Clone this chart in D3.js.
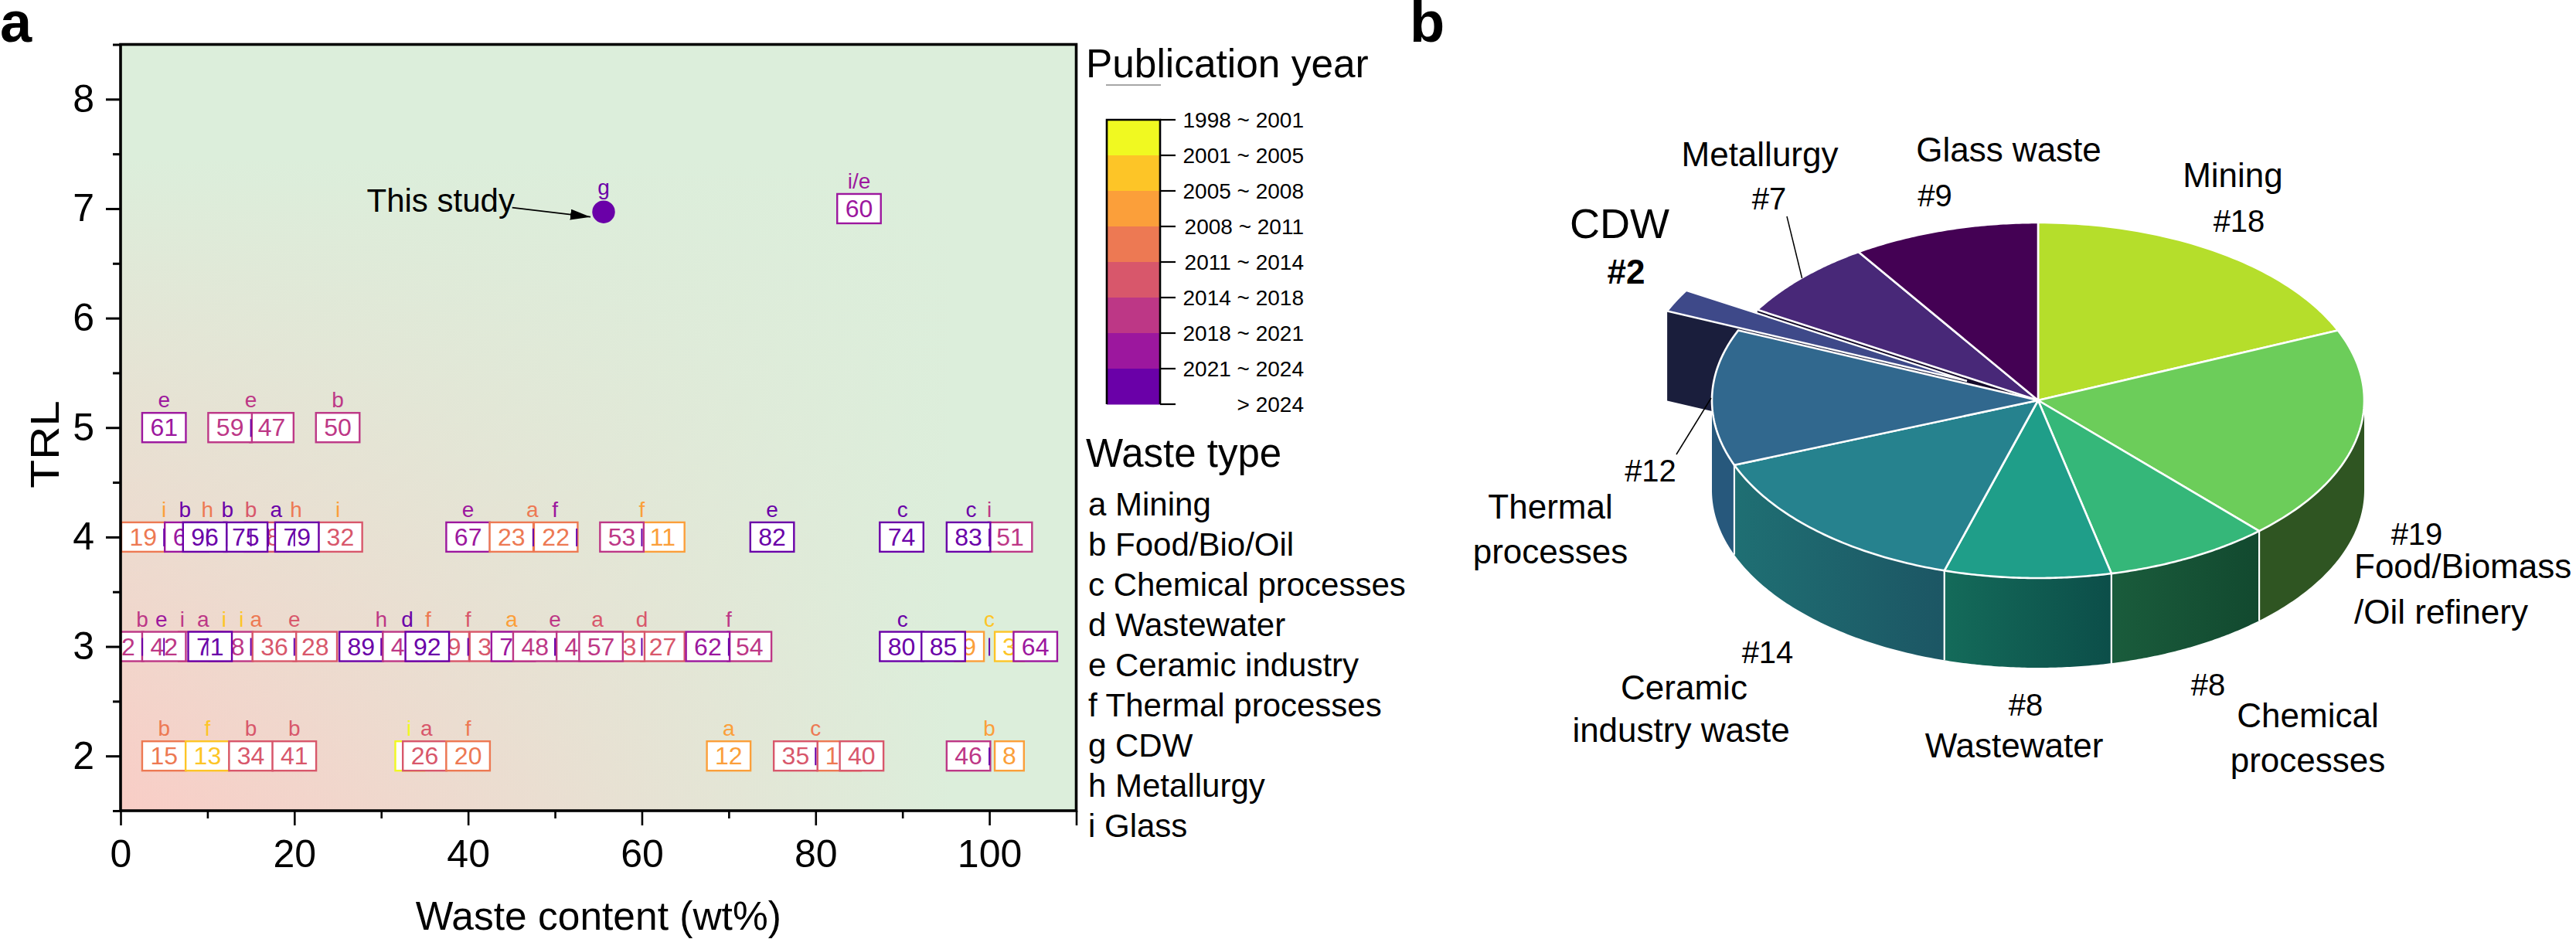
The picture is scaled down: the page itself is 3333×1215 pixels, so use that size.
<!DOCTYPE html>
<html>
<head>
<meta charset="utf-8">
<script src="https://cdn.jsdelivr.net/npm/d3@7"></script>
<style>
html,body{margin:0;padding:0;background:#fff}
svg{display:block}
text{font-family:"Liberation Sans",Arial,sans-serif;fill:#000}
</style>
</head>
<body>
<svg id="chart" width="3333" height="1215" viewBox="0 0 3333 1215"></svg>
<script>
// ---------- DATA ----------
const yearBands = ["1998 ~ 2001","2001 ~ 2005","2005 ~ 2008","2008 ~ 2011","2011 ~ 2014","2014 ~ 2018","2018 ~ 2021","2021 ~ 2024","> 2024"];
const yearColors = ["#f0f921","#fdc527","#fb9f3a","#ed7953","#d8576b","#bd3786","#9c179e","#6a00a8"];
const wasteLegend = ["a Mining","b Food/Bio/Oil","c Chemical processes","d Wastewater","e Ceramic industry","f Thermal processes","g CDW","h Metallurgy","i Glass"];

// [reference number, waste content wt%, year colour index]; listed bottom-to-top of the drawing stack
const boxesTRL7 = [["60",85,6]];
const boxesTRL5 = [["61",5,6],["47",17.4,5],["59",12.6,5],["50",25,5]];
const boxesTRL4 = [["19",2.6,3],["38",16.8,4],["69",7.6,6],["75",14.4,7],["96",9.7,7],["32",25.3,4],["79",20.3,7],
  ["67",40,6],["23",45,3],["22",50.1,3],["11",62.4,2],["53",57.7,5],["82",75,7],["74",89.9,7],["51",102.4,5],["83",97.6,7]];
const boxesTRL3 = [["52",0.1,5],["30",9.2,4],["42",5,5],["58",12.7,5],["28",22.4,4],["36",17.7,4],["71",10.3,7],
  ["89",27.7,7],["43",32.7,5],["29",37.6,4],["92",35.3,7],["37",42.7,4],["70",45.2,6],["48",47.7,5],
  ["44",52.7,5],["27",62.4,4],["33",57.8,4],["57",55.3,5],["54",72.4,5],["62",67.6,6],
  ["9",97.7,2],["80",89.9,7],["85",94.7,7],["3",102.3,1],["64",105.3,6]];
const boxesTRL2 = [["15",5,3],["13",10,1],["34",15,4],["41",20,4],["5",33.3,0],["26",35,4],["20",40,3],
  ["12",70,2],["16",82.7,3],["35",77.7,4],["40",85.3,4],["46",97.6,5],["8",102.3,2]];

// [waste type letter, wt%, year colour index]
const tagsTRL7 = [["i/e",85,6],["g",55.6,7]];
const tagsTRL5 = [["e",5,6],["e",15,5],["b",25,5]];
const tagsTRL4 = [["i",5,2],["b",7.4,7],["h",10,3],["b",12.3,7],["b",15,4],["a",17.9,7],["h",20.2,3],["i",25,2],
  ["e",40,6],["a",47.4,3],["f",50,6],["f",60,2],["e",75,7],["c",90,7],["c",97.9,7],["i",100,5]];
const tagsTRL3 = [["b",2.5,5],["e",4.7,6],["i",7.1,5],["a",9.5,5],["i",11.9,1],["i",13.9,1],["a",15.6,3],["e",20,4],
  ["h",30,5],["d",33,7],["f",35.4,3],["f",40,4],["a",45,2],["e",50,5],["a",54.9,4],["d",60,4],["f",70,5],["c",90,7],["c",100,1]];
const tagsTRL2 = [["b",5,3],["f",10,1],["b",15,4],["b",20,4],["i",33.2,0],["a",35.2,4],["f",40,3],["a",70,2],["c",80,3],["b",100,2]];

// thin purple sample markers, wt%
const marksTRL5 = [15];
const marksTRL4 = [5,10,12.2,15,17,20,47.5,52.5,60,100];
const marksTRL3 = [2.5,5,10,15,20,30,40,50,60,70,100];
const marksTRL2 = [80,100];

const thisStudy = {label:"This study", x:55.6, y:6.97};

const pieNames  = ["Mining","Food/Biomass/Oil refinery","Chemical processes","Wastewater","Ceramic industry waste","Thermal processes","CDW","Metallurgy","Glass waste"];
const pieCounts = [18,19,8,8,14,12,2,7,9];
const pieTop    = ["#b5de2b","#6ccd5a","#35b779","#1f9e89","#26828e","#31688e","#3e4989","#482878","#440154"];
const wallLeft  = ["#000","#2f5522","#1a5c3c","#146b5a","#1f6f73","#27587c","#1a1e3c","#140a2a","#000"];
const wallRight = ["#000","#2f5522","#12492f","#0c4e49","#1c5664","#27587c","#1a1e3c","#140a2a","#000"];

// ---------- SETUP ----------
const svg = d3.select("#chart");
const defs = svg.append("defs");
const x = d3.scaleLinear().domain([0,110]).range([156,1392.5]);
const y = d3.scaleLinear().domain([1.5,8.5]).range([1049,57.5]);
const color = i => yearColors[i];
const BOXH = 38, BOX2 = 56.5, BOX1 = 37.7;

// ---------- BACKGROUND ----------
const gx = defs.append("linearGradient").attr("id","bgx");
gx.append("stop").attr("offset",0).attr("stop-color","#f9cdc6");
gx.append("stop").attr("offset",0.87).attr("stop-color","#dceedb");
const gy = defs.append("linearGradient").attr("id","bgy").attr("x1",0).attr("x2",0).attr("y1",1).attr("y2",0);
gy.append("stop").attr("offset",0).attr("stop-color","#dceedb").attr("stop-opacity",0);
gy.append("stop").attr("offset",0.85).attr("stop-color","#dceedb").attr("stop-opacity",1);
const plotRect = {x:x(0), y:y(8.5), width:x(110)-x(0), height:y(1.5)-y(8.5)};
["url(#bgx)","url(#bgy)"].forEach(f=>{
  svg.append("rect").attr("x",plotRect.x).attr("y",plotRect.y).attr("width",plotRect.width).attr("height",plotRect.height).attr("fill",f);
});
defs.append("clipPath").attr("id","plotClip").append("rect")
  .attr("x",plotRect.x).attr("y",plotRect.y).attr("width",plotRect.width+60).attr("height",plotRect.height);

// ---------- BOXES ----------
const marks = svg.append("g").attr("clip-path","url(#plotClip)");
function drawRow(trl, boxes, tags, ticks){
  const yc = y(trl);
  const g = marks.append("g");
  boxes.forEach(b=>{
    const w = b[0].length===1 ? BOX1 : BOX2;
    g.append("rect").attr("x",x(b[1])-w/2).attr("y",yc-BOXH/2).attr("width",w).attr("height",BOXH)
      .attr("fill","#fff").attr("stroke",color(b[2])).attr("stroke-width",2.4);
    g.append("text").attr("x",x(b[1])).attr("y",yc+11.2).attr("text-anchor","middle")
      .attr("font-size",32).style("fill",color(b[2])).text(b[0]);
  });
  ticks.forEach(t=>{
    g.append("line").attr("x1",x(t)).attr("x2",x(t)).attr("y1",yc-11).attr("y2",yc+12)
      .attr("stroke","#6a00a8").attr("stroke-width",2);
  });
  tags.forEach(t=>{
    svg.append("text").attr("x",x(t[1])).attr("y",yc-26).attr("text-anchor","middle")
      .attr("font-size",28).style("fill",color(t[2])).text(t[0]);
  });
}
drawRow(7,boxesTRL7,[tagsTRL7[0]],[]);
drawRow(5,boxesTRL5,tagsTRL5,marksTRL5);
drawRow(4,boxesTRL4,tagsTRL4,marksTRL4);
drawRow(3,boxesTRL3,tagsTRL3,marksTRL3);
drawRow(2,boxesTRL2,tagsTRL2,marksTRL2);

// This study
const sx = x(thisStudy.x), sy = y(thisStudy.y);
svg.append("circle").attr("cx",sx).attr("cy",sy).attr("r",14.7).attr("fill","#6a00a8");
svg.append("text").attr("x",sx).attr("y",sy-22).attr("text-anchor","middle").attr("font-size",28)
  .style("fill","#6a00a8").text(tagsTRL7[1][0]);
svg.append("text").attr("x",474.5).attr("y",273.6).attr("font-size",42).text(thisStudy.label);
defs.append("marker").attr("id","arrow").attr("markerUnits","userSpaceOnUse").attr("markerWidth",28).attr("markerHeight",16)
  .attr("refX",26).attr("refY",7).attr("orient","auto")
  .append("path").attr("d","M0,0L26,7L0,14z").attr("fill","#000");
svg.append("line").attr("x1",662.7).attr("y1",268.6).attr("x2",sx-17).attr("y2",sy+6.5)
  .attr("stroke","#000").attr("stroke-width",1.8).attr("marker-end","url(#arrow)");

// ---------- AXES ----------
function styleAxis(g, w){
  g.selectAll("path").remove();
  g.selectAll("line").attr("stroke","#000").attr("stroke-width",w);
  g.selectAll("text").attr("font-size",50).style("fill","#000").attr("font-family",'"Liberation Sans"');
}
const yMajor = d3.axisLeft(y).tickValues([2,3,4,5,6,7,8]).tickSize(19).tickPadding(15).tickFormat(d3.format("d"));
const yMinor = d3.axisLeft(y).tickValues([1.5,2.5,3.5,4.5,5.5,6.5,7.5,8.5]).tickSize(10).tickFormat("");
const xMajor = d3.axisBottom(x).tickValues([0,20,40,60,80,100,110]).tickSize(19).tickPadding(18).tickFormat(d=>d===110?"":d);
const xMinor = d3.axisBottom(x).tickValues([10,30,50,70,90]).tickSize(10).tickFormat("");
styleAxis(svg.append("g").attr("transform",`translate(${x(0)},0)`).call(yMajor),3);
styleAxis(svg.append("g").attr("transform",`translate(${x(0)},0)`).call(yMinor),3);
styleAxis(svg.append("g").attr("transform",`translate(0,${y(1.5)})`).call(xMajor),2.6);
styleAxis(svg.append("g").attr("transform",`translate(0,${y(1.5)})`).call(xMinor),2.6);
svg.append("rect").attr("x",plotRect.x).attr("y",plotRect.y).attr("width",plotRect.width).attr("height",plotRect.height)
  .attr("fill","none").attr("stroke","#000").attr("stroke-width",3.6);
svg.append("text").attr("x",x(55)).attr("y",1203).attr("text-anchor","middle").attr("font-size",51.5).text("Waste content (wt%)");
svg.append("text").attr("transform","translate(75.5,575) rotate(-90) scale(1.18,1)").attr("text-anchor","middle").attr("font-size",51).text("TRL");
svg.append("text").attr("x",0).attr("y",54).attr("font-size",74).attr("font-weight","bold").text("a");
svg.append("text").attr("x",1824).attr("y",54).attr("font-size",74).attr("font-weight","bold").text("b");

// ---------- YEAR LEGEND ----------
svg.append("text").attr("x",1405).attr("y",100).attr("font-size",51.4).text("Publication year");
svg.append("line").attr("x1",1431).attr("x2",1502).attr("y1",110).attr("y2",110).attr("stroke","#8a8a8a").attr("stroke-width",1.5);
const lg = d3.scaleBand().domain(d3.range(yearColors.length)).range([155,523]);
const lgLeft = 1432, lgRight = 1501;
svg.append("g").selectAll("rect").data(yearColors).join("rect")
  .attr("x",lgLeft).attr("width",lgRight-lgLeft).attr("y",(d,i)=>lg(i)).attr("height",lg.bandwidth()+0.5).attr("fill",d=>d);
const legendBox = svg.append("g");
legendBox.append("path").attr("d",`M${lgLeft},523V155H${lgRight}V523`).attr("fill","none").attr("stroke","#000").attr("stroke-width",2.6);
yearBands.forEach((t,i)=>{
  const ly = 155 + i*lg.bandwidth();
  legendBox.append("line").attr("x1",lgRight).attr("x2",1521).attr("y1",ly).attr("y2",ly).attr("stroke","#000").attr("stroke-width",2.2);
  legendBox.append("text").attr("x",1687).attr("y",ly+9.8).attr("text-anchor","end").attr("font-size",28).text(t);
});

// ---------- WASTE LEGEND ----------
svg.append("text").attr("x",1405).attr("y",604).attr("font-size",51).text("Waste type");
wasteLegend.forEach((t,i)=>{
  svg.append("text").attr("x",1408).attr("y",667+i*52).attr("font-size",42).text(t);
});

// ---------- 3D PIE ----------
const cx=2637, cy=518, rx=422, ry=230, depth=116, explode=[-92,-25];
const pieArcs = d3.pie().sort(null).value(d=>d)(pieCounts);
const px = d3.scaleLinear().domain([-1,1]).range([cx-rx,cx+rx]);
const py = d3.scaleLinear().domain([-1,1]).range([cy-ry,cy+ry]);
const rim = (a,dy=0,off=[0,0]) => [px(Math.sin(a))+off[0], py(-Math.cos(a))+dy+off[1]];
const centre = (dy=0,off=[0,0]) => [px(0)+off[0], py(0)+dy+off[1]];
const arcPts = (a0,a1,dy=0,off=[0,0]) => d3.range(0,61).map(k=>rim(a0+(a1-a0)*k/60,dy,off));
const pathOf = d3.line();
const pieG = svg.append("g");

// exposed radial walls behind the pulled-out wedge
const cdw = pieArcs[6], metal = pieArcs[7];
pieG.append("path").attr("d",pathOf([centre(),rim(metal.startAngle),rim(metal.startAngle,depth),centre(depth)])+"Z").attr("fill",wallLeft[7]);
pieG.append("path").attr("d",pathOf([centre(0,explode),rim(cdw.startAngle,0,explode),rim(cdw.startAngle,depth,explode),centre(depth,explode)])+"Z").attr("fill",wallLeft[6]);
pieG.append("path").attr("d",pathOf([centre(0,explode),...arcPts(cdw.startAngle,cdw.endAngle,0,explode)])+"Z")
  .attr("fill",pieTop[6]).attr("stroke","#fff").attr("stroke-width",2.4);

// front walls
pieArcs.forEach((d,i)=>{
  const a0=Math.max(d.startAngle,Math.PI/2), a1=Math.min(d.endAngle,Math.PI*1.5);
  if(a1<=a0) return;
  const gid="wall"+i;
  const grad=defs.append("linearGradient").attr("id",gid);
  grad.append("stop").attr("offset",0).attr("stop-color",wallLeft[i]);
  grad.append("stop").attr("offset",1).attr("stop-color",wallRight[i]);
  const pts=[...arcPts(a0,a1,0),...arcPts(a1,a0,depth)];
  pieG.append("path").attr("d",pathOf(pts)+"Z").attr("fill",`url(#${gid})`);
});
pieArcs.forEach(d=>{
  const a=d.startAngle;
  if(a>Math.PI/2 && a<Math.PI*1.5){
    const p=rim(a), q=rim(a,depth);
    pieG.append("line").attr("x1",p[0]).attr("y1",p[1]).attr("x2",q[0]).attr("y2",q[1]).attr("stroke","#fff").attr("stroke-width",2.2);
  }
});

// top faces
pieArcs.forEach((d,i)=>{
  if(i===6) return;
  pieG.append("path").attr("d",pathOf([centre(),...arcPts(d.startAngle,d.endAngle)])+"Z")
    .attr("fill",pieTop[i]).attr("stroke","#fff").attr("stroke-width",2.6).attr("stroke-linejoin","round");
});

// ---------- PIE LABELS ----------
const pieCountLabels = pieCounts.map(c=>"#"+c);
function lab(t,xp,yp,fs,anchor,bold){
  svg.append("text").attr("x",xp).attr("y",yp).attr("font-size",fs).attr("text-anchor",anchor||"middle")
    .attr("font-weight",bold?"bold":null).text(t);
}
lab("Mining",2889,242,44);           lab(pieCountLabels[0],2897,300,40);
lab(pieCountLabels[1],3127,705,40);  lab("Food/Biomass",3046,748,44,"start"); lab("/Oil refinery",3046,807,44,"start");
lab(pieCountLabels[2],2857,900,40);  lab("Chemical",2986,941,44);   lab("processes",2986,999,44);
lab(pieCountLabels[3],2621,926,40);  lab("Wastewater",2606,980,44);
lab(pieCountLabels[4],2287,858,40);  lab("Ceramic",2179,905,44);    lab("industry waste",2175,960,44);
lab(pieCountLabels[5],2135.5,623,40);lab("Thermal",2006,671,44);    lab("processes",2006,729,44);
lab("CDW",2095.5,308,54);            lab(pieCountLabels[6],2104,367,44,"middle",true);
lab("Metallurgy",2277,215,44);       lab(pieCountLabels[7],2289,270.7,40);
lab("Glass waste",2599,209,44);      lab(pieCountLabels[8],2503.5,266.7,40);
[[2312,280,2331.6,360],[2169,588,2214,515]].forEach(l=>{
  svg.append("line").attr("x1",l[0]).attr("y1",l[1]).attr("x2",l[2]).attr("y2",l[3]).attr("stroke","#000").attr("stroke-width",1.5);
});
</script>
</body>
</html>
